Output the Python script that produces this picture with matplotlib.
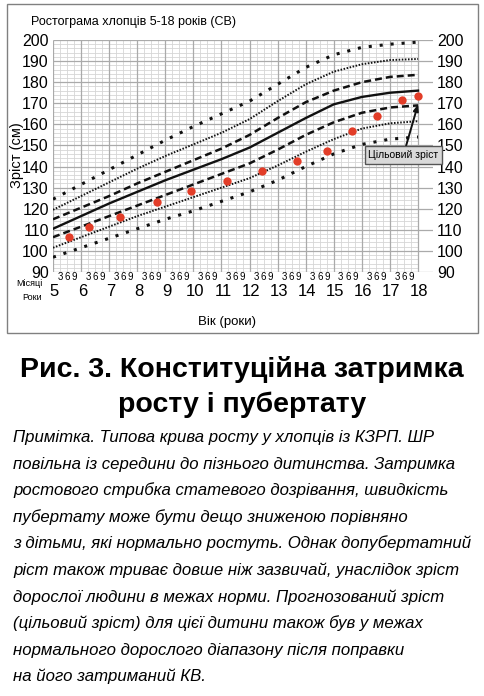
import numpy as np
import matplotlib.pyplot as plt
from matplotlib.patches import Rectangle

# вік (роки) і лінії ростограми (см)
ages = [5, 6, 7, 8, 9, 10, 11, 12, 13, 14, 15, 16, 17, 18]
sd_p3 = [124.5, 131.5, 138.5, 145.5, 152.5, 159, 165, 171, 179, 187, 193, 196.5, 198, 199]
sd_p2 = [119.5, 126, 132.5, 139, 145, 150.5, 156, 162.5, 171, 179, 185, 188.5, 190.5, 191]
sd_p1 = [115, 120.5, 126, 132, 137.5, 143, 148.5, 155, 163, 170.5, 176, 180, 182.5, 183.5]
median = [110.5, 116.5, 122.5, 128, 133.5, 138.5, 143.5, 149, 156, 163, 169.5, 173, 175, 176]
sd_m1 = [106.5, 111.5, 116.5, 121.5, 126.5, 131.5, 136.5, 141.5, 148, 155, 161, 165.5, 168, 169]
sd_m2 = [101.5, 106.5, 111.5, 116.5, 121, 125.5, 130, 134.5, 140.5, 147, 153, 158, 160.5, 161.5]
sd_m3 = [97, 101.5, 106, 110.5, 115, 119, 123.5, 128, 133.5, 140, 146, 150.5, 153, 154]

# вимірювання дитини
pt_age = [5.57, 6.28, 7.39, 8.7, 9.9, 11.2, 12.44, 13.7, 14.76, 15.65, 16.54, 17.43, 18.0]
pt_height = [106.6, 111.4, 116.1, 123.2, 128.4, 133.2, 137.9, 142.7, 147.4, 156.9, 164.0, 171.6, 173.5]

target_age = 18
target_height = 169.5

height_ticks = list(range(90, 201, 10))
month_labels = ['3', '6', '9']

note_lines = [
    "Примітка. Типова крива росту у хлопців із КЗРП. ШР",
    "повільна із середини до пізнього дитинства. Затримка",
    "ростового стрибка статевого дозрівання, швидкість",
    "пубертату може бути дещо зниженою порівняно",
    "з дітьми, які нормально ростуть. Однак допубертатний",
    "ріст також триває довше ніж зазвичай, унаслідок зріст",
    "дорослої людини в межах норми. Прогнозований зріст",
    "(цільовий зріст) для цієї дитини також був у межах",
    "нормального дорослого діапазону після поправки",
    "на його затриманий КВ.",
]

W, H = 485, 696
plt.rcParams['font.family'] = ['Liberation Sans', 'DejaVu Sans']

fig = plt.figure(figsize=(W / 100, H / 100), dpi=100)

def fx(x):
    return x / W

def fy(y):
    return 1 - y / H

# рамка навколо графіка
fig.add_artist(Rectangle((fx(7), fy(333)), (478 - 7) / W, (333 - 4) / H,
                         transform=fig.transFigure, fill=False, ec='#808080', lw=1.0))

ax = fig.add_axes([fx(53), fy(272), 380 / W, 232 / H])
xmax = 5 + 380 / 28.08
ax.set_xlim(5, xmax)
ax.set_ylim(90, 200)
for s in ax.spines.values():
    s.set_visible(False)
ax.set_xticks([])
ax.set_yticks(height_ticks)
ax.set_yticklabels([str(t) for t in height_ticks], fontsize=11.5)
ax.tick_params(axis='y', length=0, pad=3, labelleft=True, labelright=True)

# сітка
quarters = np.arange(5, 18.01, 0.25)
ax.vlines([q for q in quarters if q % 1 != 0], 90, 200, color='#d6d6d6', lw=0.6, zorder=0)
ax.hlines([h for h in range(90, 201, 2) if h % 10 != 0], 5, 18, color='#d6d6d6', lw=0.6, zorder=0)
ax.vlines(ages, 90, 200, color='#aaaaaa', lw=0.9, zorder=1)
ax.hlines(height_ticks, 5, xmax, color='#aaaaaa', lw=0.9, zorder=1)

# криві
ax.plot(ages, sd_p3, color='#111111', lw=2.2, dashes=(1, 2.6), zorder=3)
ax.plot(ages, sd_m3, color='#111111', lw=2.2, dashes=(1, 2.6), zorder=3)
ax.plot(ages, sd_p2, color='#111111', lw=1.4, dashes=(0.8, 0.8), zorder=3)
ax.plot(ages, sd_m2, color='#111111', lw=1.4, dashes=(0.8, 0.8), zorder=3)
ax.plot(ages, sd_p1, color='#111111', lw=1.8, dashes=(2.8, 1.6), zorder=3)
ax.plot(ages, sd_m1, color='#111111', lw=1.8, dashes=(2.8, 1.6), zorder=3)
ax.plot(ages, median, color='#111111', lw=1.7, zorder=3)

ax.plot(pt_age, pt_height, 'o', color='#e23d28', ms=6, mec='none', zorder=4)

ax.annotate('Цільовий зріст', xy=(target_age, target_height), xytext=(17.48, 145.5),
            ha='center', va='center', fontsize=7.5, zorder=6,
            bbox=dict(boxstyle='square,pad=0.35', fc='#d9d9d9', ec='#555555', lw=1.0),
            arrowprops=dict(arrowstyle='-|>,head_length=0.5,head_width=0.2', color='#111111',
                            lw=1.4, shrinkA=0, shrinkB=0))

# підписи місяців і років
for a in ages[:-1]:
    for k, m in enumerate(month_labels):
        ax.text(a + 0.25 * (k + 1), 87.6, m, ha='center', va='center', fontsize=7,
                clip_on=False)
for a in ages:
    ax.text(a + 0.05, 80.6, str(a), ha='center', va='center', fontsize=12, clip_on=False)

fig.text(fx(29), fy(284), 'Місяці', ha='center', va='center', fontsize=6.5)
fig.text(fx(32), fy(298), 'Роки', ha='center', va='center', fontsize=6.5)
fig.text(fx(227), fy(322), 'Вік (роки)', ha='center', va='center', fontsize=9.5)
fig.text(fx(17), fy(155), 'Зріст (см)', ha='center', va='center', rotation=90, fontsize=10.5)
fig.text(fx(31), fy(22), 'Ростограма хлопців 5-18 років (CB)', ha='left', va='center',
         fontsize=9)

# заголовок
fig.text(fx(242), fy(377), 'Рис. 3. Конституційна затримка', ha='center', va='baseline',
         fontsize=20.5, fontweight='bold')
fig.text(fx(242), fy(412), 'росту і пубертату', ha='center', va='baseline',
         fontsize=20.5, fontweight='bold')

# примітка
for i, line in enumerate(note_lines):
    fig.text(fx(13), fy(442 + i * 26.6), line, ha='left', va='baseline',
             fontsize=12.1, style='italic')

fig.savefig('out.png', dpi=100)
